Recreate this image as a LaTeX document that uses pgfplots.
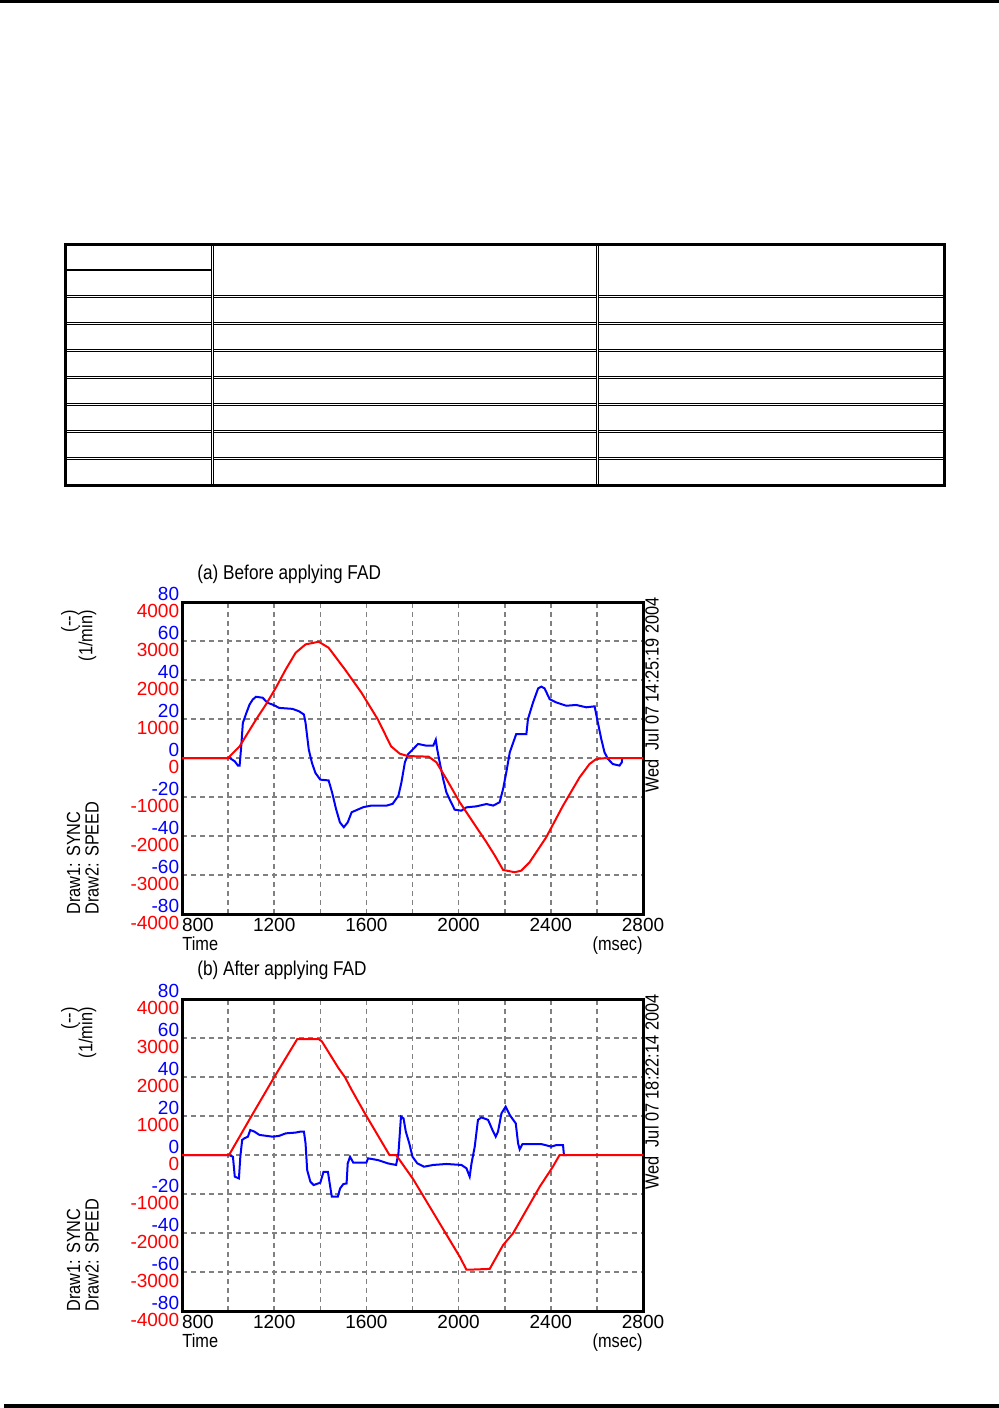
\documentclass[border=0pt]{standalone}
\usepackage{fontspec}
\setmainfont{Liberation Sans}
\newfontfamily\narrowfont{Liberation Sans}[FakeStretch=0.86]
\usepackage{pgfplots}
\pgfplotsset{compat=1.18}
\usepackage{pgfplotstable}

\definecolor{gridgray}{RGB}{128,128,128}
\newcommand\ticks{\fontsize{9.5}{10}\selectfont}
\newcommand\lab{\narrowfont\fontsize{9.5}{11}\selectfont}
\newcommand\ttl{\narrowfont\fontsize{10}{12}\selectfont}

% (a) before FAD: speed (1/min) and sync
\pgfplotstableread{
t v
800 0
1000 0
1050 300
1121 985
1164 1371
1207 1800
1250 2271
1293 2699
1336 2913
1393 2982
1436 2828
1507 2271
1579 1671
1650 985
1707 300
1745 110
1780 50
1870 35
1904 -111
1947 -538
2005 -1136
2063 -1648
2121 -2161
2157 -2500
2193 -2869
2243 -2929
2272 -2887
2308 -2673
2380 -2033
2453 -1221
2525 -495
2568 -154
2597 -26
2640 0
2800 0
}\redA

\pgfplotstableread{
t v
800 0
1007 0
1029 -1.7
1043 -3.9
1050 -3.9
1057 6
1064 18
1079 23
1093 27.4
1107 30
1121 31.4
1150 30.9
1171 28.3
1193 27.4
1207 26.6
1221 25.7
1279 25.2
1307 24
1329 22.3
1336 18
1350 4.3
1364 -2.6
1379 -7.7
1400 -11.1
1436 -11.5
1451 -17.6
1468 -26
1485 -33
1502 -35.5
1519 -33
1536 -27.8
1587 -25.2
1621 -24.4
1688 -24.4
1714 -23.5
1739 -19.3
1752 -12.5
1767 -2.2
1781 2
1803 4.6
1824 7.2
1861 6.3
1890 6.3
1901 9.4
1907 4.6
1918 -2.2
1933 -10.8
1947 -17.6
1962 -21.4
1983 -26.5
2012 -27
2034 -25.3
2077 -24.8
2121 -23.6
2150 -24.4
2178 -22.7
2193 -15.9
2207 -7.3
2222 2.9
2250 12.3
2294 12.3
2301 20
2323 28.5
2345 35.7
2359 36.6
2373 35.7
2395 30.2
2424 28.5
2467 26.8
2510 27.2
2554 26
2590 26.5
2604 18.3
2619 9.7
2633 2.9
2648 -0.5
2669 -3.1
2698 -3.9
2708 -2.2
2710 0
}\blueA

% (b) after FAD
\pgfplotstableread{
t v
800 0
1004 0
1100 985
1200 1996
1300 2972
1393 2972
1407 2912
1479 2227
1507 1996
1536 1670
1593 1071
1700 0
1729 0
1803 -620
1918 -1753
2005 -2608
2034 -2940
2048 -2940
2135 -2920
2193 -2309
2236 -2009
2294 -1411
2352 -812
2409 -299
2438 0
2800 0
}\redB

\pgfplotstableread{
t v
800 0
1004 0
1021 -0.9
1029 -11.1
1047 -12
1053 -0.9
1061 7.7
1071 8.6
1086 9.4
1096 12.8
1114 12
1136 10.3
1193 9.4
1221 9.8
1250 11.1
1293 11.5
1314 12
1329 12
1336 6
1343 -7.7
1357 -13.7
1371 -15.4
1400 -14.2
1414 -8.6
1433 -8.6
1443 -16.3
1450 -21.4
1476 -21.4
1486 -17.1
1500 -14.9
1514 -14.6
1519 -4.3
1529 -0.9
1543 -3.9
1600 -3.9
1607 -1.7
1650 -2.6
1693 -4.3
1729 -5.1
1739 0.9
1750 19.7
1761 18.8
1771 12
1786 6
1800 -0.9
1821 -4.3
1850 -6
1890 -5.1
1947 -4.6
2012 -5.1
2034 -6.8
2048 -11.1
2056 -4.3
2070 4.3
2084 18
2099 19.3
2128 18
2147 12.8
2161 9.4
2171 12
2186 21.4
2204 24.8
2222 20.5
2248 16.2
2258 6
2265 2.9
2277 5.6
2323 5.6
2359 5.6
2402 4.3
2424 5.1
2453 5.1
2457 0
2470 0
}\blueB

\pgfplotsset{
  box/.style={
    scale only axis, width=230.5pt, height=156pt,
    anchor=south west, xmin=800, xmax=2800,
    major tick length=0pt, minor tick length=0pt,
  },
  frame/.style={
    box, ymin=-4000, ymax=4000,
    xtick={800,1200,...,2800},
    xticklabels={{\makebox[0pt][l]{800}},1200,1600,2000,2400,2800},
    minor xtick={1000,1200,...,2600},
    ytick={-4000,-3000,...,4000},
    yticklabels={-4000,-3000,-2000,-1000,0,1000,2000,3000,4000},
    minor ytick={-3000,-2000,...,3000},
    grid=minor,
    minor grid style={gridgray, line width=0.8pt, dash pattern=on 2.5pt off 2pt},
    axis line style={line width=1.5pt, black},
    xticklabel style={font=\ticks, anchor=north, inner sep=0pt, yshift=-2pt},
    yticklabel style={font=\ticks, text=red, anchor=east, inner sep=0pt,
      xshift=-1.25pt, yshift=-4.25pt},
  },
  sync/.style={
    box, ymin=-80, ymax=80,
    axis line style={draw=none},
    xtick=\empty,
    ytick={-80,-60,...,80},
    yticklabels={-80,-60,-40,-20,0,20,40,60,80},
    yticklabel style={font=\ticks, text=blue, anchor=east, inner sep=0pt,
      xshift=-1.25pt, yshift=4.25pt},
  },
  speed/.style={box, ymin=-4000, ymax=4000, hide axis},
}

\begin{document}
\begin{tikzpicture}
\begin{scope}[x=0.5pt, y=-0.5pt]
  \useasboundingbox (0,0) rectangle (999,1408);
  \fill (0,0) rectangle (999,3.3);
  \fill (4,1404) rectangle (999,1408);
  % empty table
  \foreach \yy in {296,323,350,377,404,431,458}
    \draw[line width=0.5pt, double, double distance=0.5pt] (65.5,\yy) -- (944.5,\yy);
  \foreach \xx in {212,597}
    \draw[line width=0.5pt, double, double distance=0.5pt] (\xx,244.5) -- (\xx,485.5);
  \draw[line width=0.75pt] (65.5,270) -- (212,270);
  \draw[line width=1.5pt] (65.5,244.5) rectangle (944.5,485.5);

  % labels of chart (a)
  \node[anchor=west, inner sep=0pt] at (197,574) {\ttl (a) Before applying FAD};
  \node[rotate=90, anchor=east, inner sep=0pt] at (70,610) {\lab (-{}-)};
  \node[rotate=90, anchor=east, inner sep=0pt] at (87.5,610) {\lab (1/min)};
  \node[rotate=90, anchor=west, inner sep=0pt] at (73.7,915) {\lab Draw1: SYNC};
  \node[rotate=90, anchor=west, inner sep=0pt] at (92,915) {\lab Draw2: SPEED};
  \node[rotate=90, anchor=west, inner sep=0pt] at (651.7,793) {\lab Wed\ \ Jul 07 14:25:19 2004};
  \node[anchor=base west, inner sep=0pt] at (182,950) {\lab Time};
  \node[anchor=base east, inner sep=0pt] at (643,950) {\lab (msec)};

  % labels of chart (b)
  \node[anchor=west, inner sep=0pt] at (197,970) {\ttl (b) After applying FAD};
  \node[rotate=90, anchor=east, inner sep=0pt] at (70,1007) {\lab (-{}-)};
  \node[rotate=90, anchor=east, inner sep=0pt] at (87.5,1007) {\lab (1/min)};
  \node[rotate=90, anchor=west, inner sep=0pt] at (73.7,1312) {\lab Draw1: SYNC};
  \node[rotate=90, anchor=west, inner sep=0pt] at (92,1312) {\lab Draw2: SPEED};
  \node[rotate=90, anchor=west, inner sep=0pt] at (651.7,1190) {\lab Wed\ \ Jul 07 18:22:14 2004};
  \node[anchor=base west, inner sep=0pt] at (182,1347) {\lab Time};
  \node[anchor=base east, inner sep=0pt] at (643,1347) {\lab (msec)};
\end{scope}

% chart (a)
\begin{axis}[frame, at={(91pt,-457pt)}]
\end{axis}
\begin{axis}[sync, at={(91pt,-457pt)}]
  \addplot[blue, line width=1pt] table[x=t, y=v] {\blueA};
\end{axis}
\begin{axis}[speed, at={(91pt,-457pt)}]
  \addplot[red, line width=1pt] table[x=t, y=v] {\redA};
\end{axis}

% chart (b)
\begin{axis}[frame, at={(91pt,-655.5pt)}]
\end{axis}
\begin{axis}[sync, at={(91pt,-655.5pt)}]
  \addplot[blue, line width=1pt] table[x=t, y=v] {\blueB};
\end{axis}
\begin{axis}[speed, at={(91pt,-655.5pt)}]
  \addplot[red, line width=1pt] table[x=t, y=v] {\redB};
\end{axis}
\end{tikzpicture}
\end{document}
